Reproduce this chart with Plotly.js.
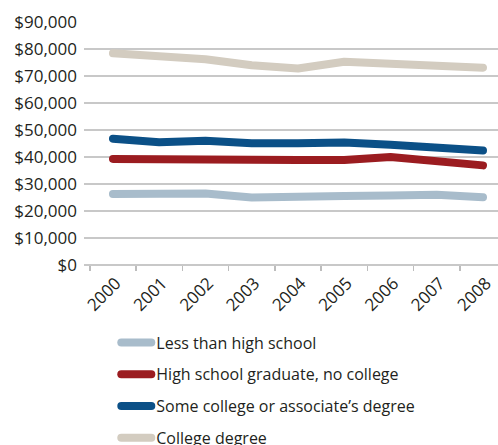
<!DOCTYPE html>
<html>
<head>
<meta charset="utf-8">
<script src="https://cdn.plot.ly/plotly-3.0.1.min.js"></script>
<style>
html, body { margin: 0; padding: 0; background: #fff; }
#chart { width: 498px; height: 445px; }
.scatterlayer path.js-line, .legend path.js-line { stroke-linecap: round; stroke-linejoin: round; }
</style>
</head>
<body>
<div id="chart"></div>
<script>
const years = ["2000", "2001", "2002", "2003", "2004", "2005", "2006", "2007", "2008"];
const lessThanHS = [26300, 26200, 26500, 25000, 25600, 25600, 25700, 26000, 25100];
const hsGrad = [39300, 39400, 39100, 39000, 38900, 38900, 40000, 38500, 36900];
const someCollege = [46800, 45500, 46000, 45100, 45100, 45400, 44500, 43500, 42400];
const collegeDegree = [78400, 77000, 76200, 74000, 72800, 75300, 74800, 74000, 73100];
const seriesNames = ["Less than high school", "High school graduate, no college", "Some college or associate\u2019s degree", "College degree"];
const seriesColors = ["#a8bccb", "#9b1c20", "#0b5087", "#d3ccc0"];
const yTicks = [0, 10000, 20000, 30000, 40000, 50000, 60000, 70000, 80000, 90000];
const yTickText = ["$0", "$10,000", "$20,000", "$30,000", "$40,000", "$50,000", "$60,000", "$70,000", "$80,000", "$90,000"];

const allSeries = [lessThanHS, hsGrad, someCollege, collegeDegree];
const traces = allSeries.map((vals, i) => ({
  x: years, y: vals, type: "scatter", mode: "lines",
  name: seriesNames[i], legendgroup: "g" + i,
  line: { color: seriesColors[i], width: 8 },
  hoverinfo: "skip"
}));

const font = { family: "Open Sans, sans-serif", color: "#231f20", size: 16 };
const layout = {
  width: 498, height: 445,
  margin: { l: 84, r: 0, t: 22, b: 180, pad: 0, autoexpand: false },
  paper_bgcolor: "#fff", plot_bgcolor: "#fff",
  font: font,
  showlegend: true,
  legend: {
    xref: "paper", x: 0.078, xanchor: "left",
    yref: "container", y: 0.2685, yanchor: "top",
    orientation: "v", tracegroupgap: 8,
    font: { family: "Open Sans, sans-serif", size: 16, color: "#231f20" },
    bgcolor: "rgba(0,0,0,0)"
  },
  xaxis: {
    type: "category", range: [-0.626, 8.324],
    tickson: "boundaries", ticks: "outside", ticklen: 5, tickcolor: "#bdbdbd", tickwidth: 1.5,
    showgrid: false, showline: false, zeroline: false,
    tickangle: -45, ticklabelshift: 3, ticklabelstandoff: 4,
    tickfont: { family: "Open Sans, sans-serif", size: 17, color: "#231f20" }
  },
  yaxis: {
    range: [0, 90000], tickvals: yTicks, ticktext: yTickText,
    showgrid: true, gridcolor: "#c8c8c8", gridwidth: 2,
    zeroline: true, zerolinecolor: "#c8c8c8", zerolinewidth: 2,
    showline: false, ticks: "", ticklabelstandoff: 6,
    tickfont: { family: "Open Sans, sans-serif", size: 17, color: "#231f20" }
  }
};

Plotly.newPlot("chart", traces, layout, { staticPlot: true, displayModeBar: false });
</script>
</body>
</html>
